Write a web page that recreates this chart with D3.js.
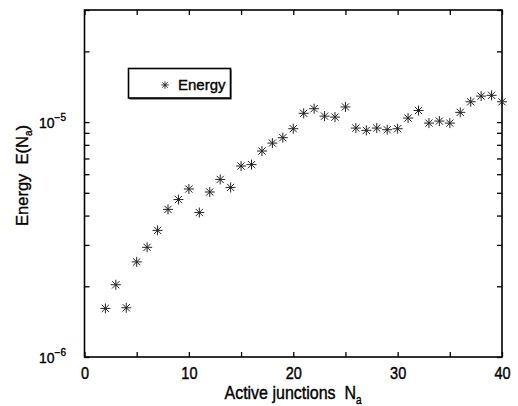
<!DOCTYPE html>
<html>
<head>
<meta charset="utf-8">
<script src="https://cdn.jsdelivr.net/npm/d3@7"></script>
<style>
  body { margin: 0; background: #fff; }
  text { font-family: "Liberation Sans", Arial, sans-serif; fill: #000; stroke: #000; stroke-width: 0.35px; }
</style>
</head>
<body>
<div id="chart"></div>
<script>
// active junctions N_a and the energy
const junctions = d3.range(2, 41);
const energy = [
  1.61e-6, 2.03e-6, 1.62e-6, 2.54e-6, 2.93e-6, 3.46e-6, 4.25e-6, 4.68e-6, 5.19e-6,
  4.12e-6, 5.04e-6, 5.70e-6, 5.27e-6, 6.50e-6, 6.59e-6, 7.53e-6, 8.14e-6, 8.58e-6,
  9.37e-6, 1.09e-5, 1.14e-5, 1.06e-5, 1.05e-5, 1.16e-5, 9.43e-6, 9.22e-6, 9.43e-6,
  9.28e-6, 9.37e-6, 1.04e-5, 1.12e-5, 9.90e-6, 1.01e-5, 9.90e-6, 1.10e-5, 1.22e-5,
  1.29e-5, 1.30e-5, 1.22e-5
];
const xTicks = [0, 5, 10, 15, 20, 25, 30, 35, 40];
const yTicks = [1e-6, 2e-6, 3e-6, 4e-6, 5e-6, 6e-6, 7e-6, 8e-6, 9e-6, 1e-5, 2e-5, 3e-5];
const yLabels = [{ v: 1e-6, exp: "−6" }, { v: 1e-5, exp: "−5" }];

const width = 518, height = 406;
const pLeft = 84.5, pRight = 502, pTop = 10, pBottom = 357;

const svg = d3.select("#chart").append("svg")
  .attr("width", width)
  .attr("height", height);

const x = d3.scaleLinear().domain([0, 40]).range([pLeft, pRight]);
const y = d3.scaleLog().domain([1e-6, 3e-5]).range([pBottom, pTop]);

// axes, ticks pointing inward
const styleAxis = g => {
  g.select(".domain").remove();
  g.selectAll(".tick line").attr("stroke", "#000").attr("stroke-width", 1.3);
};

svg.append("g")
  .attr("transform", `translate(0,${pBottom})`)
  .call(d3.axisBottom(x).tickValues(xTicks).tickSize(-5).tickPadding(8)
    .tickFormat(d => d % 10 === 0 ? d : ""))
  .call(styleAxis)
  .selectAll("text")
  .attr("font-size", 14.5)
  .attr("font-family", null)
  .attr("transform", "scale(1,1.2)");

svg.append("g")
  .attr("transform", `translate(0,${pTop})`)
  .call(d3.axisTop(x).tickValues(xTicks).tickSize(-5).tickFormat(""))
  .call(styleAxis);

svg.append("g")
  .attr("transform", `translate(${pLeft},0)`)
  .call(d3.axisLeft(y).tickValues(yTicks).tickSize(-5).tickFormat(""))
  .call(styleAxis);

svg.append("g")
  .attr("transform", `translate(${pRight},0)`)
  .call(d3.axisRight(y).tickValues(yTicks).tickSize(-5).tickFormat(""))
  .call(styleAxis);

svg.append("rect")
  .attr("x", pLeft).attr("y", pTop)
  .attr("width", pRight - pLeft).attr("height", pBottom - pTop)
  .attr("fill", "none").attr("stroke", "#000").attr("stroke-width", 1.6);

// y tick labels 10^-n
const yl = svg.append("g").selectAll("text").data(yLabels).enter().append("text")
  .attr("x", 66)
  .attr("y", d => y(d.v) + 5.5)
  .attr("text-anchor", "end")
  .attr("font-size", 14);
yl.append("tspan").text("10");
yl.append("tspan").attr("dy", -7).attr("font-size", 10).text(d => d.exp);

// axis titles
const xt = svg.append("text")
  .attr("transform", "translate(293,399) scale(1,1.2)")
  .attr("text-anchor", "middle")
  .attr("font-size", 16);
xt.append("tspan").text("Active junctions\u00a0\u00a0N");
xt.append("tspan").attr("dy", 4).attr("font-size", 10).text("a");

const yt = svg.append("text")
  .attr("transform", `translate(28,${(pTop + pBottom) / 2 - 8}) rotate(-90)`)
  .attr("text-anchor", "middle")
  .attr("font-size", 16.5);
yt.append("tspan").text("Energy\u00a0\u00a0E(N");
yt.append("tspan").attr("dy", 4).attr("font-size", 10).text("a");
yt.append("tspan").attr("dy", -4).text(")");

// asterisk markers
const star = "M-5,0H5M0,-5V5M-3.6,-3.6L3.6,3.6M-3.6,3.6L3.6,-3.6";

svg.append("g").selectAll("path")
  .data(junctions.map((n, i) => [n, energy[i]]))
  .enter().append("path")
  .attr("d", star)
  .attr("transform", d => `translate(${x(d[0])},${y(d[1])})`)
  .attr("fill", "none")
  .attr("stroke", "#222")
  .attr("stroke-width", 1);

// legend
const lg = svg.append("g");
lg.append("rect")
  .attr("x", 129.5).attr("y", 69.5).attr("width", 102).attr("height", 30)
  .attr("fill", "#333");
lg.append("rect")
  .attr("x", 128.5).attr("y", 68.5).attr("width", 102).attr("height", 29.5)
  .attr("fill", "#fff").attr("stroke", "#000").attr("stroke-width", 1.6);
lg.append("path")
  .attr("d", star)
  .attr("transform", "translate(165,85) scale(0.75)")
  .attr("fill", "none").attr("stroke", "#222").attr("stroke-width", 1.2);
lg.append("text")
  .attr("x", 178).attr("y", 89.5)
  .attr("font-size", 15)
  .text("Energy");
</script>
</body>
</html>
